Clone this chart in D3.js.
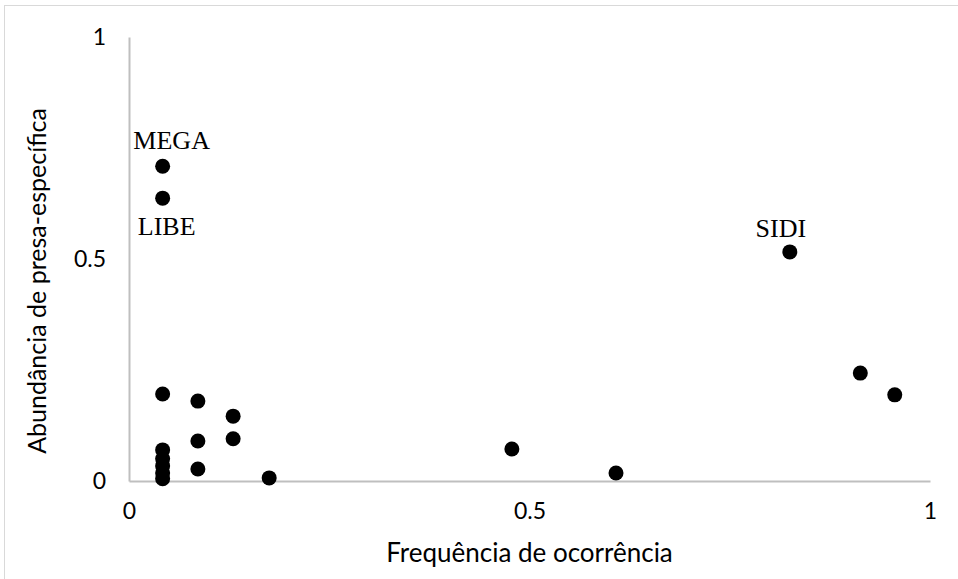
<!DOCTYPE html>
<html><head><meta charset="utf-8">
<script src="https://cdn.jsdelivr.net/npm/d3@7"></script>
<style>body{margin:0;background:#fff}svg{display:block}</style>
</head><body>
<svg id="c" width="958" height="579"></svg>
<script>
// Data
const freq = [0.042,0.042,0.825,0.913,0.956,0.478,0.608,0.042,0.086,0.130,0.086,0.130,0.086,0.042,0.042,0.042,0.042,0.042,0.175];
const abund = [0.709,0.637,0.516,0.243,0.194,0.072,0.018,0.196,0.180,0.146,0.090,0.095,0.027,0.070,0.050,0.034,0.018,0.005,0.007];
const labelNames = ["MEGA","LIBE","SIDI"];
const labelIdx = [0,1,2];
const xTicks = [0,0.5,1];
const yTicks = [0,0.5,1];
const xTitle = "Frequência de ocorrência";
const yTitle = "Abundância de presa-específica";

const svg = d3.select("#c");
const m = {l:129, r:28, t:37, b:98};
const W = 958, H = 579;
const x = d3.scaleLinear().domain([0,1]).range([m.l, W-m.r]);
const y = d3.scaleLinear().domain([0,1]).range([H-m.b, m.t]);

svg.append("rect").attr("x",4.5).attr("y",5.5).attr("width",W).attr("height",H)
  .attr("fill","none").attr("stroke","#d9d9d9");

const sans = "Lato, 'Open Sans', sans-serif";
const xa = svg.append("g").attr("transform",`translate(0,${y(0)})`)
  .call(d3.axisBottom(x).tickValues(xTicks).tickSize(0).tickPadding(22).tickFormat(d3.format("")));
const ya = svg.append("g").attr("transform",`translate(${x(0)},0)`)
  .call(d3.axisLeft(y).tickValues(yTicks).tickSize(0).tickPadding(23).tickFormat(d3.format("")));
[xa,ya].forEach(a=>{
  a.select(".domain").attr("stroke","#bfbfbf").attr("stroke-width",2);
  a.selectAll("text").attr("font-family",sans).attr("font-size",23).attr("fill","#000");
});

svg.append("text").attr("x",(x(0)+x(1))/2).attr("y",562).attr("text-anchor","middle")
  .attr("font-family",sans).attr("font-size",26).text(xTitle);
svg.append("text").attr("transform",`translate(46,281) rotate(-90)`)
  .attr("text-anchor","middle").attr("font-family",sans).attr("font-size",25).text(yTitle);

const pts = freq.map((f,i)=>({f, a:abund[i]}));
svg.append("g").selectAll("circle").data(pts).join("circle")
  .attr("cx",d=>x(d.f)).attr("cy",d=>y(d.a)).attr("r",7.5).attr("fill","#000");

const offs = [[9,-17],[4,37],[-9,-15]];
svg.append("g").selectAll("text").data(labelIdx).join("text")
  .attr("x",(d,i)=>x(freq[d])+offs[i][0]).attr("y",(d,i)=>y(abund[d])+offs[i][1])
  .attr("text-anchor","middle").attr("font-family","'Liberation Serif', serif").attr("font-size",26)
  .text((d,i)=>labelNames[i]);
</script>
</body></html>
